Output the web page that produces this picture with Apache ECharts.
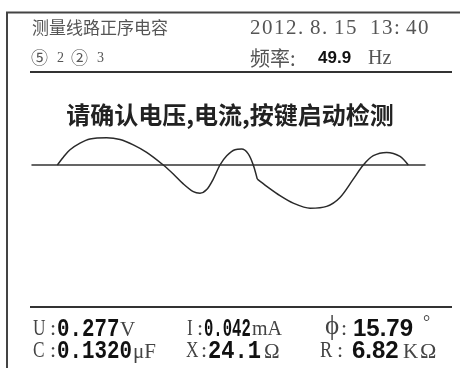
<!DOCTYPE html>
<html>
<meta charset="utf-8">
<head>
	<title>测量线路正序电容</title>
	<script src="https://cdn.jsdelivr.net/npm/echarts@6/dist/echarts.min.js"></script>
	<style type="text/css">
		html,body{margin:0;padding:0;background:#fff;}
		#main{width:460px;height:368px;}
	</style>
</head>
<body>
<div id="main"></div>
<script type="text/javascript">
// 波形数据：时间(ms) 与 幅值，在 22.93ms 处有一个折点
var waveTime  = [2.58, 3.19, 3.87, 4.89, 5.90, 7.60, 8.96, 10.31, 11.67, 13.36, 14.38, 15.40, 16.42,
                 17.10, 17.78, 18.45, 19.13, 19.82, 20.66, 21.34, 22.01, 22.52, 22.93,
                 23.89, 25.24, 26.59, 28.30, 29.99, 31.35, 32.70, 33.72, 34.74, 36.10, 37.46, 38.30];
var waveValue = [0, 0.26, 0.51, 0.73, 0.87, 0.91, 0.85, 0.67, 0.42, 0, -0.30, -0.63, -0.89,
                 -0.94, -0.82, -0.47, 0, 0.31, 0.51, 0.53, 0.37, 0, -0.47,
                 -0.71, -1.02, -1.27, -1.44, -1.38, -1.08, -0.47, 0, 0.31, 0.42, 0.29, 0];
var kinkIndex = 22;

// 页面文字
var headerTitle = '测量线路正序电容';
var headerIndex = ['⑤', '2', '②', '3'];
var headerDate  = '2012.8.15 13:40';
var freqLabel   = '频率:';
var freqValue   = '49.9';
var freqUnit    = 'Hz';
var promptText  = '请确认电压,电流,按键启动检测';

// 读数：[符号, 数值, 单位]
var readU   = ['U', '0.277', 'V'];
var readI   = ['I', '0.042', 'mA'];
var readPhi = ['ϕ', '15.79', '°'];
var readC   = ['C', '0.1320', 'μF'];
var readX   = ['X', '24.1', 'Ω'];
var readR   = ['R', '6.82', 'K', 'Ω'];

var myChart = echarts.init(document.getElementById('main'));

var cjk = '"Noto Sans CJK SC", sans-serif';
var serif = '"Liberation Serif", serif';
var mono = '"Liberation Mono", monospace';
var sans = '"Liberation Sans", sans-serif';

// 一段文字（sx 为横向压缩）
function txt(s, x, y, font, color, sx) {
	return {
		type: 'text', x: x, y: y, scaleX: sx || 1,
		style: {text: s, font: font, fill: color || '#444', verticalAlign: 'middle'}
	};
}

// 等宽排字（仿仪表屏的半角字）
function fixed(s, x, y, font, color, adv) {
	var out = [];
	for (var i = 0; i < s.length; i++) {
		if (s[i] !== ' ') out.push(txt(s[i], x + i * adv, y, font, color));
	}
	return out;
}

function pts(a, b) {
	var r = [];
	for (var i = a; i <= b; i++) r.push([waveTime[i], waveValue[i]]);
	return r;
}

var row1 = 329, row2 = 351;
var lineStyle = {color: '#2a2a2a', width: 1.5};

var graphics = [
	// 外框
	{type: 'line', shape: {x1: 6, y1: 12.5, x2: 460, y2: 12.5}, style: {stroke: '#444', lineWidth: 2}},
	{type: 'line', shape: {x1: 7, y1: 12, x2: 7, y2: 368}, style: {stroke: '#444', lineWidth: 2}},
	// 分隔线
	{type: 'line', shape: {x1: 30, y1: 72, x2: 452, y2: 72}, style: {stroke: '#333', lineWidth: 2}},
	{type: 'line', shape: {x1: 30, y1: 307, x2: 452, y2: 307}, style: {stroke: '#333', lineWidth: 2}},
	// 标题栏
	txt(headerTitle, 32, 28, '17px ' + cjk, '#555'),
	txt(headerIndex[0], 31, 58, '17px ' + cjk, '#555'),
	txt(headerIndex[1], 57, 58, '14px ' + serif, '#555'),
	txt(headerIndex[2], 71, 58, '17px ' + cjk, '#555'),
	txt(headerIndex[3], 97, 58, '14px ' + serif, '#555'),
	txt(freqLabel, 250, 58, '20px ' + cjk, '#555'),
	txt(freqValue, 318, 58, 'bold 17px ' + sans, '#111'),
	txt(freqUnit, 368, 59, '20px ' + serif, '#555'),
	// 提示
	{type: 'text', left: 'center', top: 103, style: {text: promptText, font: 'bold 24px ' + cjk, fill: '#222'}},
	// 读数 第一行
	txt(readU[0], 33, row1, '23px ' + serif, '#444', 0.75),
	txt(':', 50, row1, '22px ' + serif),
	txt(readU[1], 57, row1, 'bold 26px ' + mono, '#111', 0.8),
	txt(readU[2], 120, row1 + 1, '21px ' + serif),
	txt(readI[0], 187, row1, '23px ' + serif, '#444', 0.75),
	txt(':', 197, row1, '22px ' + serif),
	txt(readI[1], 204, row1, 'bold 26px ' + mono, '#111', 0.6),
	txt(readI[2], 252, row1 + 1, '20px ' + serif),
	txt(readPhi[0], 325, row1 - 2, '27px ' + serif),
	txt(':', 341, row1, '22px ' + serif),
	txt(readPhi[1], 353, row1, 'bold 24px ' + sans, '#111'),
	txt(readPhi[2], 423, row1 - 6, '18px ' + serif),
	// 读数 第二行
	txt(readC[0], 33, row2, '23px ' + serif, '#444', 0.75),
	txt(':', 50, row2, '22px ' + serif),
	txt(readC[1], 57, row2, 'bold 26px ' + mono, '#111', 0.8),
	txt(readC[2], 133, row2 + 1, '21px ' + serif),
	txt(readX[0], 186, row2, '23px ' + serif, '#444', 0.75),
	txt(':', 201, row2, '22px ' + serif),
	txt(readX[1], 208, row2, 'bold 26px ' + mono, '#111', 0.85),
	txt(readX[2], 264, row2 + 1, '21px ' + serif),
	txt(readR[0], 320, row2, '23px ' + serif, '#444', 0.8),
	txt(':', 337, row2, '22px ' + serif),
	txt(readR[1], 352, row2, 'bold 24px ' + sans, '#111'),
	txt(readR[2], 403, row2 + 1, '21px ' + serif),
	txt(readR[3], 420, row2 + 1, '22px ' + serif)
];
// 日期时间
graphics = graphics.concat(fixed(headerDate, 250, 28, '21px ' + serif, '#555', 12));

var option = {
	backgroundColor: '#fff',
	animation: false,
	grid: {left: 32, right: 35, top: 105, bottom: 143},
	xAxis: {
		type: 'value', min: 0, max: 40,
		axisLine: {show: true, onZero: true, lineStyle: {color: '#333', width: 1.5}},
		axisTick: {show: false}, axisLabel: {show: false}, splitLine: {show: false}
	},
	yAxis: {
		type: 'value', min: -2, max: 2,
		axisLine: {show: false}, axisTick: {show: false},
		axisLabel: {show: false}, splitLine: {show: false}
	},
	series: [
		{type: 'line', data: pts(0, kinkIndex), smooth: 0.3, showSymbol: false, lineStyle: lineStyle},
		{type: 'line', data: pts(kinkIndex, waveTime.length - 1), smooth: 0.3, showSymbol: false, lineStyle: lineStyle}
	],
	graphic: graphics
};
myChart.setOption(option);
</script>
</body>
</html>
